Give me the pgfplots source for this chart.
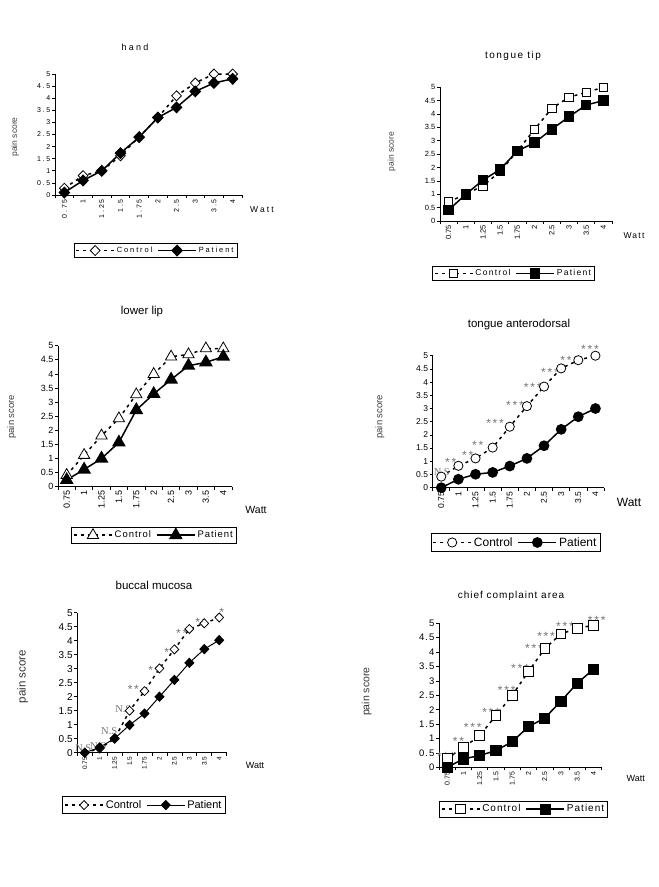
\documentclass[border=0pt]{standalone}
\usepackage{fontspec}
\setmainfont{Liberation Sans}
\newfontfamily\serifnote{Liberation Serif}
\newfontfamily\lsA[LetterSpace=25]{Liberation Sans}
\newfontfamily\lsB[LetterSpace=15]{Liberation Sans}
\newfontfamily\lsC[LetterSpace=10]{Liberation Sans}
\usepackage{pgfplots}
\pgfplotsset{compat=1.18}

\pgfplotsset{
  panel/.style={
    scale only axis, clip=false,
    axis lines=left, axis line style={line width=0.8pt,-},
    xmin=-0.5, xmax=9.5, ymin=0, ymax=5,
    xtick={-0.5,0.5,...,9.5},
    x tick label as interval,
    xticklabels={0.75,1,1.25,1.5,1.75,2,2.5,3,3.5,4},
    ytick={0,0.5,...,5},
    yticklabels={0,0.5,1,1.5,2,2.5,3,3.5,4,4.5,5},
    tick align=outside, major tick length=3pt,
    tick style={line width=0.7pt, black},
    x tick label style={rotate=90, anchor=east, inner sep=1pt},
    y tick label style={inner sep=1.5pt},
    legend columns=2,
    legend style={draw=black, line width=0.8pt, anchor=center, inner sep=1.5pt,
      /tikz/every even column/.append style={column sep=3pt}},
    legend image code/.code={\draw[mark repeat=2,mark phase=2,##1] plot coordinates {(0pt,0pt) (19pt,0pt) (38pt,0pt)};},
  },
  ctrl/.style={black, line width=1.5pt, dash pattern=on 3pt off 4pt},
  pat/.style={black, line width=1.5pt},
}
\tikzset{
  ann/.style={text=black!55, inner sep=0pt, font=\lsB\fontsize{12}{12}\selectfont, yshift=-3pt},
  nsnote/.style={text=black!55, inner sep=0pt, font=\serifnote\fontsize{10.5}{11}\selectfont},
}

\begin{document}
\begin{tikzpicture}
\path[use as bounding box] (0,0) rectangle (659pt,-887pt);

% ---------------- hand ----------------
\begin{axis}[panel, at={(55pt,-195pt)}, anchor=south west, width=187pt, height=121pt,
  ticklabel style={font=\lsA\fontsize{7}{8}\selectfont},
  legend style={at={(0.537,-0.459)}, font=\lsA\fontsize{7.5}{8}\selectfont}]
\addplot[ctrl, mark=diamond*, mark size=5pt, mark options={solid, fill=white, line width=0.8pt, xscale=1.3}]
  coordinates {(0,0.28) (1,0.80) (2,1.0) (3,1.62) (4,2.4) (5,3.2) (6,4.1) (7,4.63) (8,5.0) (9,5.0)};
\addlegendentry{Control}
\addplot[pat, mark=diamond*, mark size=5pt, mark options={solid, fill=black, xscale=1.3}]
  coordinates {(0,0.10) (1,0.60) (2,1.0) (3,1.73) (4,2.39) (5,3.2) (6,3.62) (7,4.28) (8,4.63) (9,4.8)};
\addlegendentry{Patient}
\end{axis}
\node[font=\lsA\fontsize{9}{10}\selectfont] at (135pt,-47pt) {hand};
\node[rotate=90, font=\fontsize{8.5}{9}\selectfont, text=black!75] at (15pt,-137pt) {pain score};
\node[font=\lsA\fontsize{8.5}{9}\selectfont] at (262pt,-210pt) {Watt};

% ---------------- tongue tip ----------------
\begin{axis}[panel, at={(440pt,-221pt)}, anchor=south west, width=172pt, height=133.7pt,
  ticklabel style={font=\fontsize{7.5}{8}\selectfont},
  legend style={at={(0.427,-0.393)}, font=\lsB\fontsize{8.5}{9}\selectfont}]
\addplot[ctrl, mark=square*, mark size=4.2pt, mark options={solid, fill=white, line width=0.8pt}]
  coordinates {(0,0.72) (1,1.0) (2,1.32) (3,1.85) (4,2.62) (5,3.43) (6,4.21) (7,4.63) (8,4.81) (9,5.0)};
\addlegendentry{Control}
\addplot[pat, mark=square*, mark size=4.5pt, mark options={solid, fill=black}]
  coordinates {(0,0.41) (1,1.0) (2,1.53) (3,1.93) (4,2.62) (5,2.93) (6,3.43) (7,3.9) (8,4.34) (9,4.5)};
\addlegendentry{Patient}
\end{axis}
\node[font=\lsB\fontsize{10}{11}\selectfont] at (513pt,-56pt) {tongue tip};
\node[rotate=90, font=\fontsize{8.5}{9}\selectfont, text=black!75] at (391.7pt,-151.7pt) {pain score};
\node[font=\lsB\fontsize{8.5}{9}\selectfont] at (634pt,-236pt) {Watt};

% ---------------- lower lip ----------------
\begin{axis}[panel, at={(58pt,-486.7pt)}, anchor=south west, width=174pt, height=141pt,
  ticklabel style={font=\fontsize{9}{10}\selectfont},
  legend style={at={(0.552,-0.343)}, font=\lsC\fontsize{9.5}{10}\selectfont}]
\addplot[ctrl, mark=triangle*, mark size=6.5pt, mark options={solid, fill=white, line width=0.8pt}]
  coordinates {(0,0.41) (1,1.12) (2,1.81) (3,2.42) (4,3.27) (5,3.99) (6,4.61) (7,4.69) (8,4.9) (9,4.9)};
\addlegendentry{Control}
\addplot[pat, mark=triangle*, mark size=6.5pt, mark options={solid, fill=black}]
  coordinates {(0,0.24) (1,0.61) (2,1.0) (3,1.57) (4,2.72) (5,3.29) (6,3.8) (7,4.29) (8,4.41) (9,4.61)};
\addlegendentry{Patient}
\end{axis}
\node[font=\fontsize{11.5}{12}\selectfont] at (142pt,-312pt) {lower lip};
\node[rotate=90, font=\fontsize{9.5}{10}\selectfont, text=black!75] at (11.7pt,-416.7pt) {pain score};
\node[font=\fontsize{10.5}{11}\selectfont] at (256pt,-510pt) {Watt};

% ---------------- tongue anterodorsal ----------------
\begin{axis}[panel, at={(432.7pt,-487.7pt)}, anchor=south west, width=171.3pt, height=132pt,
  ticklabel style={font=\fontsize{8.5}{9}\selectfont},
  legend style={at={(0.483,-0.415)}, font=\fontsize{12}{12}\selectfont}]
\addplot[ctrl, mark=*, mark size=4.6pt, mark options={solid, fill=white, line width=0.8pt}]
  coordinates {(0,0.42) (1,0.83) (2,1.11) (3,1.52) (4,2.31) (5,3.09) (6,3.83) (7,4.52) (8,4.83) (9,5.0)};
\addlegendentry{Control}
\addplot[pat, mark=*, mark size=4.6pt, mark options={solid, fill=black}]
  coordinates {(0,0) (1,0.32) (2,0.51) (3,0.58) (4,0.82) (5,1.11) (6,1.59) (7,2.21) (8,2.69) (9,3.0)};
\addlegendentry{Patient}
\node[nsnote] at (axis cs:0.03,0.58) {N.S};
\node[ann] at (axis cs:0.55,1.09) {**};
\node[ann] at (axis cs:1.54,1.33) {**};
\node[ann] at (axis cs:2.13,1.72) {**};
\node[ann] at (axis cs:3.14,2.56) {***};
\node[ann] at (axis cs:4.30,3.22) {***};
\node[ann] at (axis cs:5.34,3.93) {***};
\node[ann] at (axis cs:6.35,4.48) {***};
\node[ann] at (axis cs:7.47,4.92) {***};
\node[ann] at (axis cs:8.68,5.34) {***};
\end{axis}
\node[font=\fontsize{11.5}{12}\selectfont] at (519pt,-325pt) {tongue anterodorsal};
\node[rotate=90, font=\fontsize{9.5}{10}\selectfont, text=black!75] at (380pt,-416.7pt) {pain score};
\node[font=\fontsize{12}{12}\selectfont] at (629pt,-502.7pt) {Watt};

% ---------------- buccal mucosa ----------------
\begin{axis}[panel, at={(77.3pt,-752.7pt)}, anchor=south west, width=149.4pt, height=140pt,
  yticklabel style={font=\fontsize{10}{11}\selectfont},
  xticklabel style={font=\fontsize{6.5}{7}\selectfont},
  pat/.append style={line width=1pt},
  legend style={at={(0.446,-0.374)}, font=\fontsize{11}{11}\selectfont}]
\addplot[ctrl, mark=diamond*, mark size=4.5pt, mark options={solid, fill=white, line width=0.8pt, xscale=1.3}]
  coordinates {(0,0) (1,0.15) (2,0.5) (3,1.5) (4,2.2) (5,3.01) (6,3.69) (7,4.42) (8,4.62) (9,4.83)};
\addlegendentry{Control}
\addplot[pat, mark=diamond*, mark size=4.5pt, mark options={solid, fill=black, xscale=1.3}]
  coordinates {(0,0) (1,0.19) (2,0.51) (3,0.99) (4,1.4) (5,2.0) (6,2.6) (7,3.21) (8,3.7) (9,4.02)};
\addlegendentry{Patient}
\node[nsnote] at (axis cs:-0.10,0.17) {N.S};
\node[nsnote] at (axis cs:0.90,0.24) {N.S};
\node[nsnote] at (axis cs:1.64,0.78) {N.S};
\node[nsnote] at (axis cs:2.58,1.56) {N.S};
\node[ann] at (axis cs:3.25,2.36) {**};
\node[ann] at (axis cs:4.63,3.05) {**};
\node[ann] at (axis cs:5.70,3.69) {**};
\node[ann] at (axis cs:6.49,4.38) {**};
\node[ann] at (axis cs:7.78,4.77) {**};
\node[ann] at (axis cs:9.17,5.12) {*};
\end{axis}
\node[font=\fontsize{11.5}{12}\selectfont] at (154pt,-585pt) {buccal mucosa};
\node[rotate=90, font=\fontsize{11.5}{12}\selectfont, text=black!80] at (22.7pt,-676.7pt) {pain score};
\node[font=\fontsize{9}{9}\selectfont] at (255pt,-765.7pt) {Watt};

% ---------------- chief complaint area ----------------
\begin{axis}[panel, at={(439pt,-767.3pt)}, anchor=south west, width=162.7pt, height=144pt,
  yticklabel style={font=\lsC\fontsize{9.5}{10}\selectfont},
  xticklabel style={font=\fontsize{7}{8}\selectfont},
  legend style={at={(0.519,-0.29)}, font=\lsC\fontsize{10}{11}\selectfont}]
\addplot[ctrl, mark=square*, mark size=4.8pt, mark options={solid, fill=white, line width=0.8pt}]
  coordinates {(0,0.31) (1,0.69) (2,1.1) (3,1.8) (4,2.5) (5,3.33) (6,4.12) (7,4.63) (8,4.83) (9,4.93)};
\addlegendentry{Control}
\addplot[pat, mark=square*, mark size=4.8pt, mark options={solid, fill=black}]
  coordinates {(0,0) (1,0.29) (2,0.41) (3,0.58) (4,0.89) (5,1.41) (6,1.71) (7,2.3) (8,2.92) (9,3.41)};
\addlegendentry{Patient}
\node[ann] at (axis cs:-0.07,0.49) {***};
\node[ann] at (axis cs:0.69,1.00) {**};
\node[ann] at (axis cs:1.57,1.49) {***};
\node[ann] at (axis cs:2.70,2.02) {***};
\node[ann] at (axis cs:3.66,2.76) {***};
\node[ann] at (axis cs:4.48,3.55) {***};
\node[ann] at (axis cs:5.34,4.25) {***};
\node[ann] at (axis cs:6.08,4.65) {***};
\node[ann] at (axis cs:7.24,5.00) {***};
\node[ann] at (axis cs:9.19,5.21) {***};
\end{axis}
\node[font=\lsC\fontsize{10}{11}\selectfont] at (511pt,-596pt) {chief complaint area};
\node[rotate=90, font=\fontsize{10.5}{11}\selectfont, text=black!80] at (366.7pt,-691.7pt) {pain score};
\node[font=\fontsize{9}{9}\selectfont] at (635.7pt,-778.3pt) {Watt};

\end{tikzpicture}
\end{document}
